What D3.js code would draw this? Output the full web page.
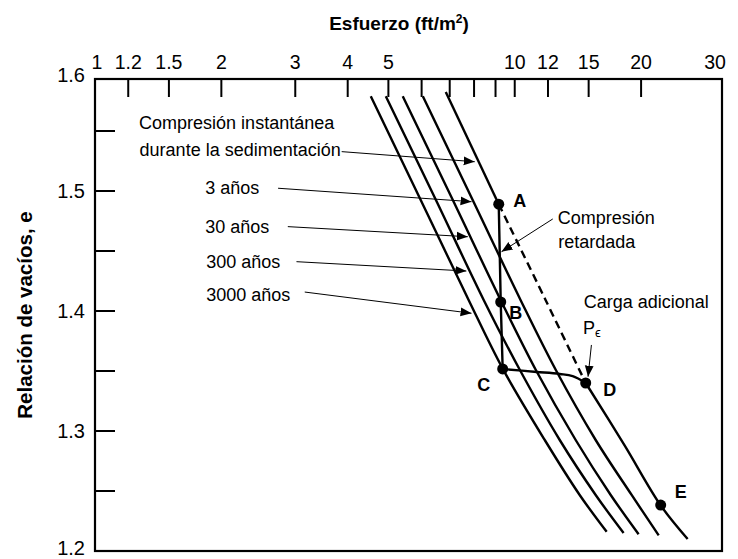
<!DOCTYPE html>
<html>
<head>
    <meta charset="utf-8">
    <script src="https://d3js.org/d3.v7.min.js"></script>
    <style>
        body { margin: 0; background: #fff; }
        text { font-family: "Liberation Sans", Arial, sans-serif; fill: #000; }
    </style>
</head>
<body>
    <script>
        // axis ticks
        var stressTicks = [1.2, 1.5, 2, 3, 4, 5, 6, 7, 8, 9, 10, 12, 15, 20];
        var stressLabels = [1, 1.2, 1.5, 2, 3, 4, 5, 10, 12, 15, 20, 30];
        var eTicks = [1.25, 1.3, 1.35, 1.4, 1.45, 1.5, 1.55];
        var eLabels = [1.2, 1.3, 1.4, 1.5, 1.6];

        // curves [stress, e]
        var curve3000 = [[4.54, 1.579], [5.97, 1.4925], [7.77, 1.409], [9.36, 1.352], [11.79, 1.2925], [14.28, 1.2467], [16.56, 1.216]];
        var curve300 = [[4.93, 1.579], [6.49, 1.4925], [8.44, 1.409], [10.28, 1.351], [12.8, 1.2925], [15.59, 1.2467], [18.17, 1.215]];
        var curve30 = [[5.41, 1.579], [7.12, 1.4925], [9.26, 1.409], [11.22, 1.351], [13.97, 1.2925], [16.93, 1.2467], [19.73, 1.214]];
        var curve3 = [[6.04, 1.579], [7.94, 1.4925], [10.33, 1.409], [12.52, 1.351], [15.59, 1.2925], [18.99, 1.2467], [22.03, 1.213]];
        var curveInst = [[6.85, 1.5825], [9.16, 1.489], [11.85, 1.409], [14.76, 1.34], [18.27, 1.288], [22.27, 1.238], [25.82, 1.21]];

        // compression path A -> B -> C and C -> D
        var pathABC = [[9.16, 1.489], [9.26, 1.4075], [9.36, 1.3517]];
        var pathCD = [[9.36, 1.3517], [11.28, 1.3492], [12.8, 1.3475], [13.74, 1.3458], [14.76, 1.34]];

        var pointNames = ["A", "B", "C", "D", "E"];
        var pointValues = [[9.16, 1.489], [9.26, 1.4075], [9.36, 1.3517], [14.76, 1.34], [22.27, 1.2383]];
        var pointLabelPos = [[10.28, 1.4917], [10.05, 1.3983], [8.44, 1.3383], [16.83, 1.3342], [24.85, 1.2492]];

        // annotation arrows [from, to]
        var arrows = [
            [[3.87, 1.5328], [8.03, 1.5244]],
            [[2.73, 1.5023], [7.89, 1.4911]],
            [[2.88, 1.4703], [7.73, 1.4619]],
            [[3.02, 1.4411], [7.67, 1.4333]],
            [[3.16, 1.4158], [7.89, 1.3981]],
            [[12.32, 1.4767], [9.3, 1.4494]],
            [[15.23, 1.3717], [14.95, 1.3453]]
        ];

        // annotation texts [text, stress, e, anchor]
        var notes = [
            ["Compresión instantánea", 2.175, 1.5567, "middle"],
            ["durante la sedimentación", 3.85, 1.5342, "end"],
            ["3 años", 1.83, 1.5025, "start"],
            ["30 años", 1.83, 1.4703, "start"],
            ["300 años", 1.84, 1.4411, "start"],
            ["3000 años", 1.84, 1.4133, "start"],
            ["Compresión", 12.66, 1.4775, "start"],
            ["retardada", 12.7, 1.4575, "start"],
            ["Carga adicional", 14.6, 1.4075, "start"]
        ];

        var width = 738, height = 559;
        var frameTop = 79, frameRight = 722;

        var x = d3.scaleLog().domain([1, 30]).range([95, 715]);
        var y = d3.scaleLinear().domain([1.2, 1.6]).range([551, 71]);

        var svg = d3.select("body").append("svg")
            .attr("width", width)
            .attr("height", height);

        svg.append("defs").append("marker")
            .attr("id", "head")
            .attr("viewBox", "0 0 10 10")
            .attr("refX", 10).attr("refY", 5)
            .attr("markerWidth", 11).attr("markerHeight", 11)
            .attr("markerUnits", "userSpaceOnUse")
            .attr("orient", "auto")
            .append("path")
            .attr("d", "M0,1 L10,5 L0,9 Z")
            .attr("fill", "#000");

        // frame
        svg.append("rect")
            .attr("x", x(1)).attr("y", frameTop)
            .attr("width", frameRight - x(1))
            .attr("height", y(1.2) - frameTop)
            .attr("fill", "none").attr("stroke", "#000").attr("stroke-width", 2.2);

        // top ticks (inward)
        svg.selectAll(".xt").data(stressTicks).enter().append("line")
            .attr("x1", d => x(d)).attr("x2", d => x(d))
            .attr("y1", frameTop).attr("y2", frameTop + 18)
            .attr("stroke", "#000").attr("stroke-width", 2);

        svg.selectAll(".xl").data(stressLabels).enter().append("text")
            .attr("x", d => x(d) + (d === 1 ? 2 : 0)).attr("y", 69)
            .attr("text-anchor", "middle")
            .style("font-size", "19.5px")
            .text(d => d);

        // left ticks (inward)
        svg.selectAll(".yt").data(eTicks).enter().append("line")
            .attr("x1", x(1)).attr("x2", x(1) + 20)
            .attr("y1", d => y(d)).attr("y2", d => y(d))
            .attr("stroke", "#000").attr("stroke-width", 2);

        svg.selectAll(".yl").data(eLabels).enter().append("text")
            .attr("x", 85).attr("y", d => y(d) + (d === 1.6 ? 4 : 0) - (d === 1.2 ? 3 : 0))
            .attr("dy", "0.35em")
            .attr("text-anchor", "end")
            .style("font-size", "20px")
            .text(d => d.toFixed(1));

        // axis titles
        svg.append("text")
            .attr("x", 399).attr("y", 30)
            .attr("text-anchor", "middle")
            .style("font-size", "19px").style("font-weight", "bold")
            .text("Esfuerzo (ft/m")
            .append("tspan").attr("dy", -7).style("font-size", "12px").text("2")
            .select(function () { return this.parentNode; })
            .append("tspan").attr("dy", 7).text(")");

        svg.append("text")
            .attr("transform", "translate(32," + ((frameTop + y(1.2)) / 2) + ") rotate(-90)")
            .attr("text-anchor", "middle")
            .style("font-size", "20.5px").style("font-weight", "bold")
            .text("Relación de vacíos, e");

        var line = d3.line()
            .x(d => x(d[0]))
            .y(d => y(d[1]))
            .curve(d3.curveCatmullRom);

        // time curves
        [curve3000, curve300, curve30, curve3].forEach(function (c) {
            svg.append("path")
                .attr("d", line(c))
                .attr("fill", "none").attr("stroke", "#000").attr("stroke-width", 2.4);
        });

        // instantaneous curve: solid to A, dashed A-D, solid after D
        svg.append("path")
            .attr("d", line(curveInst.slice(0, 2)))
            .attr("fill", "none").attr("stroke", "#000").attr("stroke-width", 2.4);
        svg.append("path")
            .attr("d", line(curveInst.slice(1, 4)))
            .attr("fill", "none").attr("stroke", "#000").attr("stroke-width", 2.4)
            .attr("stroke-dasharray", "8,5");
        svg.append("path")
            .attr("d", line(curveInst.slice(3)))
            .attr("fill", "none").attr("stroke", "#000").attr("stroke-width", 2.4);

        // A-B-C and C-D
        svg.append("path")
            .attr("d", d3.line().x(d => x(d[0])).y(d => y(d[1]))(pathABC))
            .attr("fill", "none").attr("stroke", "#000").attr("stroke-width", 2.4);
        svg.append("path")
            .attr("d", d3.line().x(d => x(d[0])).y(d => y(d[1])).curve(d3.curveMonotoneX)(pathCD))
            .attr("fill", "none").attr("stroke", "#000").attr("stroke-width", 2.4);

        // arrows
        svg.selectAll(".arrow").data(arrows).enter().append("line")
            .attr("x1", d => x(d[0][0])).attr("y1", d => y(d[0][1]))
            .attr("x2", d => x(d[1][0])).attr("y2", d => y(d[1][1]))
            .attr("stroke", "#000").attr("stroke-width", 1)
            .attr("marker-end", "url(#head)");

        // points
        svg.selectAll(".pt").data(pointValues).enter().append("circle")
            .attr("cx", d => x(d[0])).attr("cy", d => y(d[1]))
            .attr("r", 5.5).attr("fill", "#000");

        svg.selectAll(".ptl").data(pointLabelPos).enter().append("text")
            .attr("x", d => x(d[0])).attr("y", d => y(d[1]))
            .attr("dy", "0.35em")
            .attr("text-anchor", "middle")
            .style("font-size", "18px").style("font-weight", "bold")
            .text((d, i) => pointNames[i]);

        // notes
        svg.selectAll(".note").data(notes).enter().append("text")
            .attr("x", d => x(d[1])).attr("y", d => y(d[2]))
            .attr("dy", "0.35em")
            .attr("text-anchor", d => d[3])
            .style("font-size", "18px")
            .text(d => d[0]);

        // P epsilon
        svg.append("text")
            .attr("x", x(14.55)).attr("y", y(1.3858))
            .attr("dy", "0.35em")
            .style("font-size", "18px")
            .text("P")
            .append("tspan").attr("dy", 3).style("font-size", "13px").text("ϵ");
    </script>
</body>
</html>
